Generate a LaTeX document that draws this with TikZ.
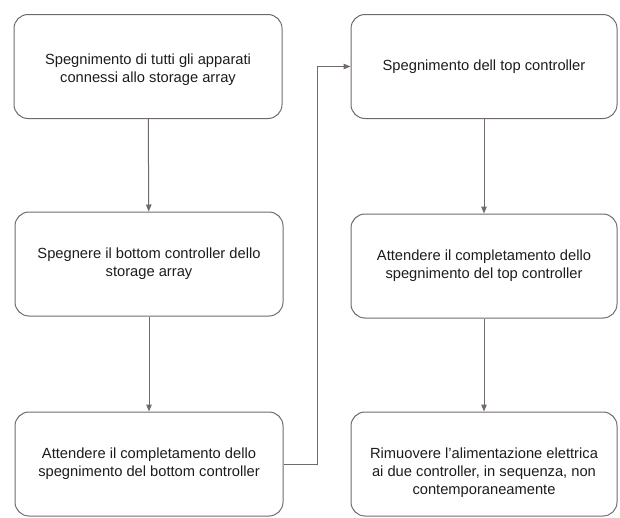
\documentclass[tikz,border=0pt]{standalone}
\usepackage{fontspec}
\setmainfont{Liberation Sans}
\usetikzlibrary{arrows.meta,positioning,calc}
\definecolor{edgegray}{RGB}{112,106,106}
\definecolor{inkdark}{RGB}{28,28,28}
\tikzset{
  stepbox/.style={draw=edgegray, line width=1pt, rounded corners=14pt,
    minimum width=268pt, minimum height=104pt, align=center,
    text=inkdark, font=\fontsize{14.7}{18}\selectfont, inner sep=0pt},
  steptext/.style={align=center, text=inkdark,
    font=\fontsize{14.7}{18}\selectfont, inner sep=0pt},
  flow/.style={draw=edgegray, line width=1pt,
    -{Triangle[length=7pt,width=5.5pt]}}
}
\begin{document}
\begin{tikzpicture}[x=1pt,y=-1pt]
\useasboundingbox (0,0) rectangle (620,517);
% left column
\node[stepbox] (L1) at (148,66.5) {};
\node[steptext] (L1t) at ($(L1.center)+(0,3)$) {Spegnimento di tutti gli apparati\\connessi allo storage array};
\node[stepbox] (L2) at (149,264) {Spegnere il bottom controller dello\\storage array};
\node[stepbox] (L3) at (149,464) {Attendere il completamento dello\\spegnimento del bottom controller};
% right column
\node[stepbox, minimum width=266pt] (R1) at (484,66.5) {Spegnimento dell top controller};
\node[stepbox, minimum width=266pt] (R2) at (484,266) {Attendere il completamento dello\\spegnimento del top controller};
\node[stepbox, minimum width=266pt] (R3) at (484,464) {};
\node[steptext] (R3t) at ($(R3.center)+(0,9)$) {Rimuovere l’alimentazione elettrica\\ai due controller, in sequenza, non\\contemporaneamente};
% connectors
\draw[flow] (L1) -- (L2);
\draw[flow] (L2) -- (L3);
\draw[flow] (L3.east) -- ++(34,0) |- (R1.west);
\draw[flow] (R1) -- (R2);
\draw[flow] (R2) -- (R3);
\end{tikzpicture}
\end{document}
